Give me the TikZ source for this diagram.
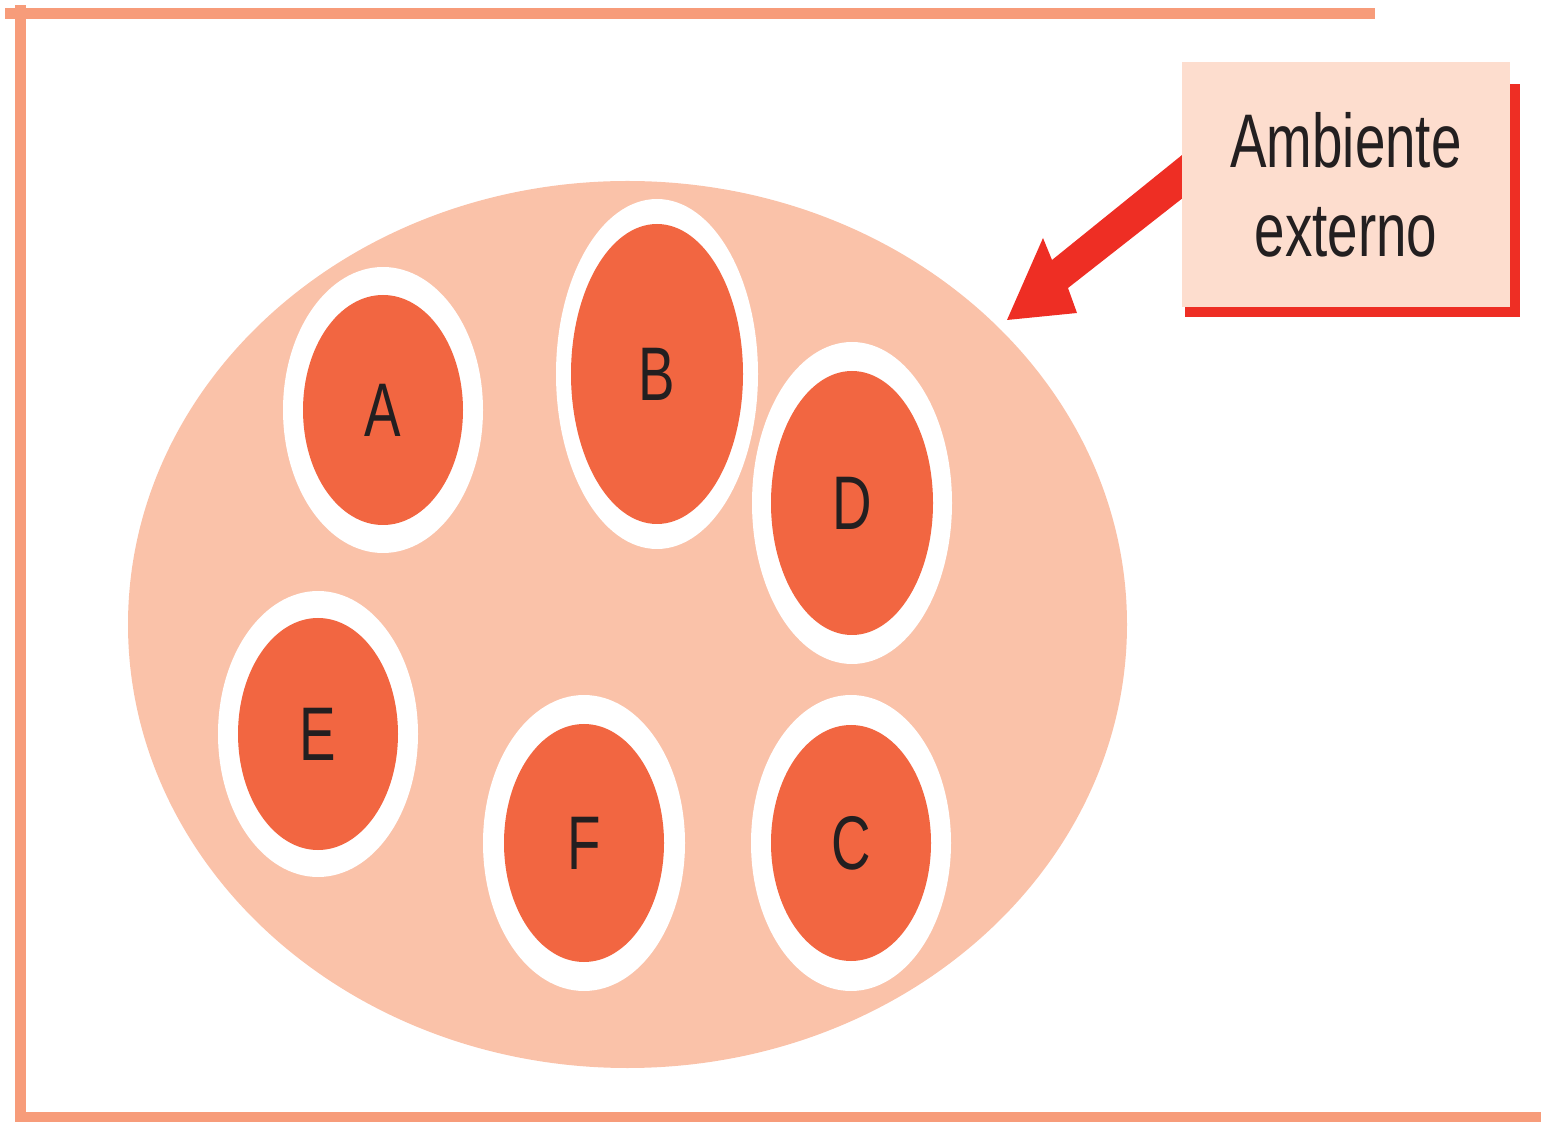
\documentclass[tikz,border=0pt]{standalone}
\usepackage{fontspec}
\setmainfont{Liberation Sans}
\newfontfamily\condsans[FakeStretch=0.72]{Liberation Sans}
\usetikzlibrary{shapes.geometric,calc,backgrounds}

\definecolor{framecol}{HTML}{F79C7A}
\definecolor{envcol}{HTML}{FAC2A9}
\definecolor{cellcol}{HTML}{F26641}
\definecolor{boxcol}{HTML}{FDDDCE}
\definecolor{accent}{HTML}{EE2E24}
\definecolor{ink}{HTML}{231F20}

\tikzset{
  envshape/.style={ellipse, fill=envcol, inner sep=0pt, outer sep=0pt},
  ringshape/.style={ellipse, fill=white, inner sep=0pt, outer sep=0pt},
  cellshape/.style={ellipse, fill=cellcol, inner sep=0pt, outer sep=0pt,
    text=ink, font=\condsans\fontsize{38}{38}\selectfont},
  labelbox/.style={rectangle, fill=boxcol, inner sep=0pt, outer sep=0pt,
    minimum width=164pt, minimum height=122.5pt, align=center, text=ink,
    font=\condsans\fontsize{38}{44.5}\selectfont},
}

\begin{document}
\begin{tikzpicture}[x=0.5pt, y=-0.5pt]
  \useasboundingbox (0,0) rectangle (1548,1122);

  % page frame
  \fill[framecol] (5,8) rectangle (1375,19);
  \fill[framecol] (15,5) rectangle (26,1122);
  \fill[framecol] (15,1112) rectangle (1541,1122);

  % the whole organism
  \node[envshape, minimum width=499.5pt, minimum height=443.5pt] (env) at (627.5,624.5) {};

  % cells: name / centre / outer radii / inner radii (px)
  \foreach \n/\cx/\cy/\ox/\oy/\ix/\iy in {
      A/383/410/100/143/80/115,
      B/657/374/101/175/86/150,
      D/852/503/100/161/81/132,
      E/318/734/100/143/80/116,
      F/584/843/101/148/80/119,
      C/851/843/100/148/80/118} {
    \node[ringshape, minimum width=\ox pt, minimum height=\oy pt] (\n-ring) at (\cx,\cy) {};
    \node[cellshape, minimum width=\ix pt, minimum height=\iy pt] (\n) at (\cx,\cy) {\n};
  }

  % label
  \node[labelbox] (amb) at (1346,184.5) {Ambiente\\externo};
  \coordinate (tip) at (1007,320);

  \begin{pgfonlayer}{background}
    % drop shadow of the label
    \fill[accent] ($(amb.south west)+(3,10)$) rectangle ($(amb.north east)+(10,22)$);
    % arrow from the label to the organism
    \fill[accent] (tip) -- ($(tip)+(36,-82)$) -- ($(tip)+(45,-60)$)
      -- ($(amb.west)+(18,-44)$) -- ($(amb.west)+(18,0)$)
      -- ($(tip)+(61,-32)$) -- ($(tip)+(70,-7)$) -- cycle;
  \end{pgfonlayer}
\end{tikzpicture}
\end{document}
